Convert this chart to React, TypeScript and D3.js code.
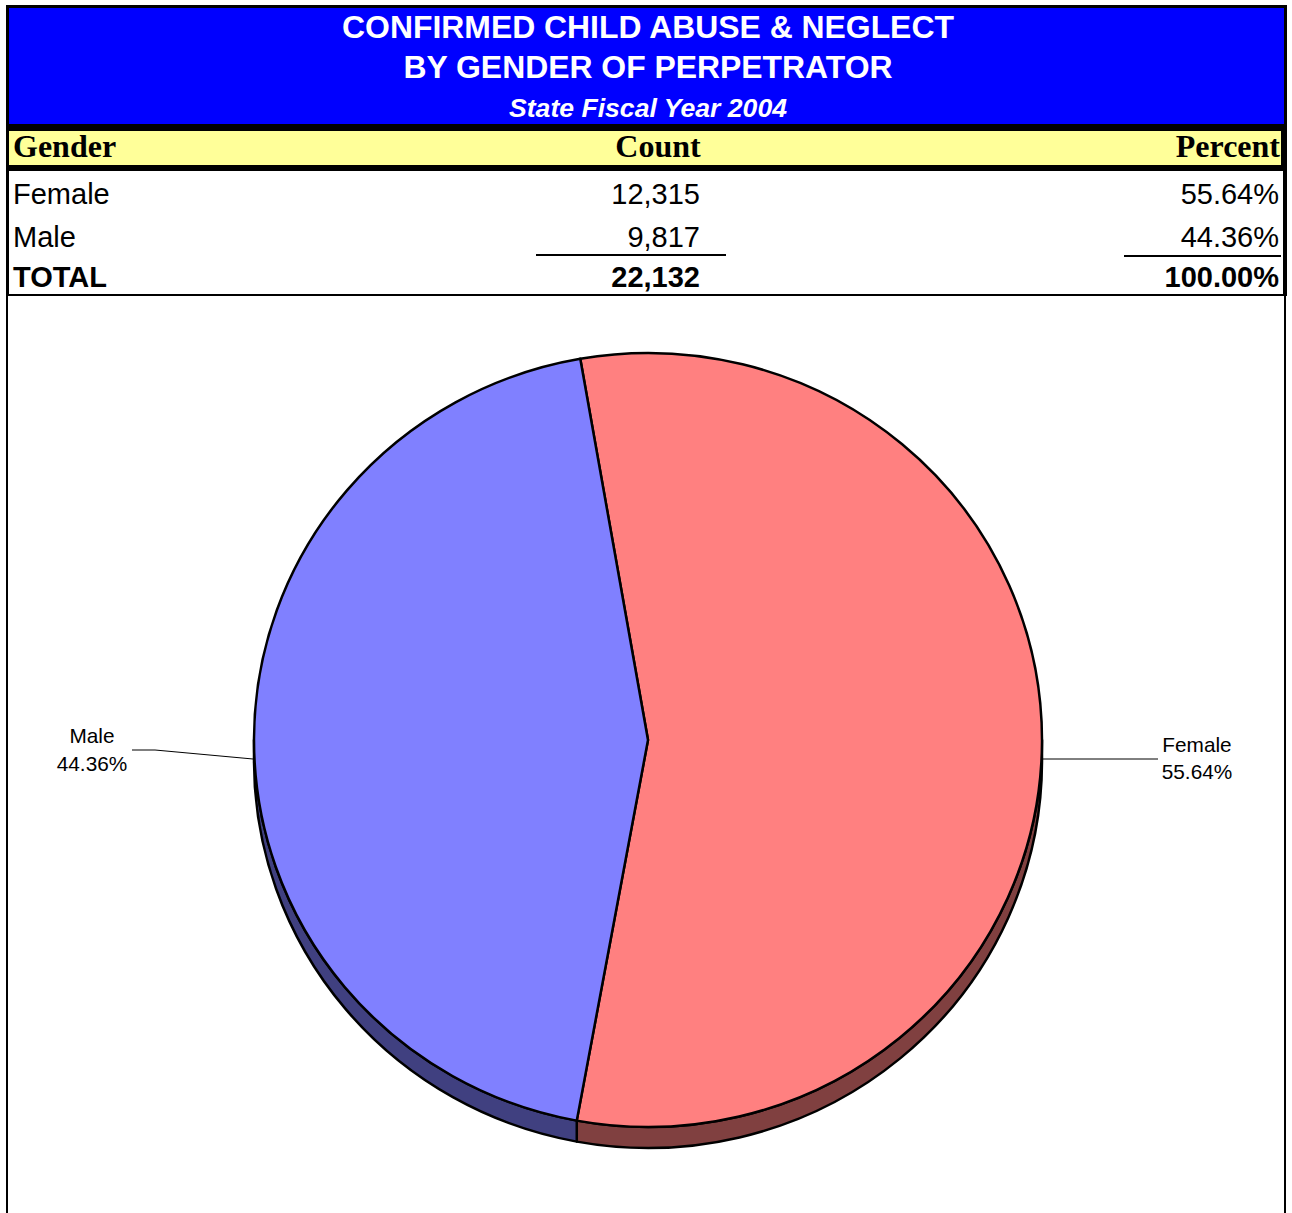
import React from "react";
import * as d3 from "d3";

const titleLines = ["CONFIRMED CHILD ABUSE & NEGLECT", "BY GENDER OF PERPETRATOR"];
const subtitle = "State Fiscal Year 2004";
const columnHeaders = ["Gender", "Count", "Percent"];
const genders = ["Female", "Male"];
const counts = [12315, 9817];
const percentLabels = ["55.64%", "44.36%"];
const totalLabel = "TOTAL";
const totalCount = 22132;
const totalPercent = "100.00%";
const topColors = ["#FF8080", "#8080FF"];
const sideColors = ["#804040", "#404080"];

const W = 1292;
const H = 1213;
const cx = 648;
const cy = 740;
const rx = 394;
const ry = 387;
const depth = 21;
const startDeg = -9.9;

function pt(a: number, dy = 0): [number, number] {
  return [cx + rx * Math.sin(a), cy - ry * Math.cos(a) + dy];
}

export default function App() {
  const fmt = d3.format(",");
  const pie = d3
    .pie<number>()
    .sort(null)
    .startAngle((startDeg * Math.PI) / 180)
    .endAngle((startDeg * Math.PI) / 180 + 2 * Math.PI);
  const arcs = pie(counts);

  const topPath = (s: number, e: number) => {
    const [x0, y0] = pt(s);
    const [x1, y1] = pt(e);
    const large = e - s > Math.PI ? 1 : 0;
    return `M${cx},${cy}L${x0},${y0}A${rx},${ry} 0 ${large} 1 ${x1},${y1}Z`;
  };
  const sidePath = (s: number, e: number) => {
    const a0 = Math.max(s, Math.PI / 2);
    const a1 = Math.min(e, (3 * Math.PI) / 2);
    if (a1 <= a0) return null;
    const [x0, y0] = pt(a0);
    const [x1, y1] = pt(a1);
    const [x2, y2] = pt(a1, depth);
    const [x3, y3] = pt(a0, depth);
    return `M${x0},${y0}A${rx},${ry} 0 0 1 ${x1},${y1}L${x2},${y2}A${rx},${ry} 0 0 0 ${x3},${y3}Z`;
  };

  const sans = "'Liberation Sans', Arial, sans-serif";
  const serif = "'Liberation Serif', 'Times New Roman', serif";
  const rowY = [204, 247];
  const bodySize = 29;
  const labelSize = 20.8;

  return (
    <svg
      width={W}
      height={H}
      style={{ position: "absolute", left: 0, top: 0, background: "#fff" }}
    >
      {/* header block */}
      <rect x={6} y={5} width={1281} height={291} fill="#000" />
      <rect x={9} y={8} width={1275} height={116} fill="#0000FF" />
      <rect x={9} y={131} width={1272} height={34} fill="#FFFF99" />
      <rect x={9} y={171} width={1274} height={123} fill="#fff" />
      <line x1={7} y1={296} x2={7} y2={H} stroke="#000" strokeWidth={2} />
      <line x1={1285} y1={296} x2={1285} y2={H} stroke="#000" strokeWidth={2} />

      <text x={648} y={38} textAnchor="middle" fill="#fff" fontFamily={sans} fontWeight="bold" fontSize={31.9}>
        {titleLines[0]}
      </text>
      <text x={648} y={78} textAnchor="middle" fill="#fff" fontFamily={sans} fontWeight="bold" fontSize={31.9}>
        {titleLines[1]}
      </text>
      <text x={648} y={117} textAnchor="middle" fill="#fff" fontFamily={sans} fontWeight="bold" fontStyle="italic" fontSize={26.6}>
        {subtitle}
      </text>

      <text x={13} y={157} fontFamily={serif} fontWeight="bold" fontSize={32} fill="#000">
        {columnHeaders[0]}
      </text>
      <text x={658} y={157} textAnchor="middle" fontFamily={serif} fontWeight="bold" fontSize={32} fill="#000">
        {columnHeaders[1]}
      </text>
      <text x={1280} y={157} textAnchor="end" fontFamily={serif} fontWeight="bold" fontSize={32} fill="#000">
        {columnHeaders[2]}
      </text>

      {genders.map((g, i) => (
        <g key={g}>
          <text x={13} y={rowY[i]} fontFamily={sans} fontSize={bodySize} fill="#000">
            {g}
          </text>
          <text x={700} y={rowY[i]} textAnchor="end" fontFamily={sans} fontSize={bodySize} fill="#000">
            {fmt(counts[i])}
          </text>
          <text x={1279} y={rowY[i]} textAnchor="end" fontFamily={sans} fontSize={bodySize} fill="#000">
            {percentLabels[i]}
          </text>
        </g>
      ))}
      <line x1={536} y1={255} x2={726} y2={255} stroke="#000" strokeWidth={2} />
      <line x1={1124} y1={256} x2={1281} y2={256} stroke="#000" strokeWidth={2} />
      <text x={13} y={287} fontFamily={sans} fontWeight="bold" fontSize={bodySize} fill="#000">
        {totalLabel}
      </text>
      <text x={700} y={287} textAnchor="end" fontFamily={sans} fontWeight="bold" fontSize={bodySize} fill="#000">
        {fmt(totalCount)}
      </text>
      <text x={1279} y={287} textAnchor="end" fontFamily={sans} fontWeight="bold" fontSize={bodySize} fill="#000">
        {totalPercent}
      </text>

      {/* pie sides */}
      {arcs.map((a, i) => {
        const p = sidePath(a.startAngle, a.endAngle);
        return p ? (
          <path key={"s" + i} d={p} fill={sideColors[i]} stroke="#000" strokeWidth={2.5} strokeLinejoin="round" />
        ) : null;
      })}
      {/* pie tops */}
      {arcs.map((a, i) => (
        <path
          key={"t" + i}
          d={topPath(a.startAngle, a.endAngle)}
          fill={topColors[i]}
          stroke="#000"
          strokeWidth={2.5}
          strokeLinejoin="round"
        />
      ))}

      {/* labels */}
      <polyline points="1042,759 1158,759" fill="none" stroke="#000" strokeWidth={1} />
      <text x={1197} y={752} textAnchor="middle" fontFamily={sans} fontSize={labelSize} fill="#000">
        {genders[0]}
      </text>
      <text x={1197} y={779} textAnchor="middle" fontFamily={sans} fontSize={labelSize} fill="#000">
        {percentLabels[0]}
      </text>
      <polyline points="132,750 155,750 253,759" fill="none" stroke="#000" strokeWidth={1} />
      <text x={92} y={743} textAnchor="middle" fontFamily={sans} fontSize={labelSize} fill="#000">
        {genders[1]}
      </text>
      <text x={92} y={771} textAnchor="middle" fontFamily={sans} fontSize={labelSize} fill="#000">
        {percentLabels[1]}
      </text>
    </svg>
  );
}
